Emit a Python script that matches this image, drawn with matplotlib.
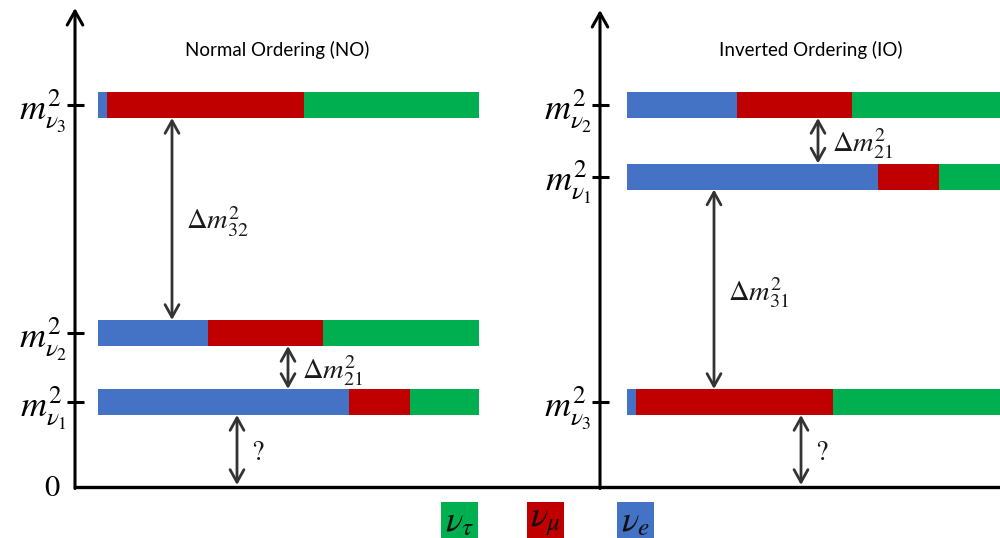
from matplotlib import pyplot as plt
from matplotlib.patches import Rectangle

plt.rcParams['mathtext.fontset'] = 'stix'
plt.rcParams['font.family'] = ['Lato', 'DejaVu Sans']

# flavour order inside every bar: nu_e, nu_mu, nu_tau
flavour_colors = ['#4472C4', '#C00000', '#00B050']
legend_labels = [r'$\nu_\tau$', r'$\nu_\mu$', r'$\nu_e$']
legend_colors = ['#00B050', '#C00000', '#4472C4']

# flavour content of the mass eigenstates
nu1_content = [0.66, 0.16, 0.18]
nu2_content = [0.29, 0.30, 0.41]
nu3_content = [0.024, 0.516, 0.46]

# schematic height of each level above zero (nu1, nu2, nu3)
no_levels = [85, 154, 382]
io_levels = [310.5, 382, 85]

mass_labels = [r'$m^2_{\nu_1}$', r'$m^2_{\nu_2}$', r'$m^2_{\nu_3}$']
contents = [nu1_content, nu2_content, nu3_content]

bar_len = 381
bar_h = 26
arrow_col = '#333333'

fig = plt.figure(figsize=(10, 5.38), dpi=100)
ax = fig.add_axes([0, 0, 1, 1])
ax.set_xlim(0, 1000)
ax.set_ylim(-51, 487)
ax.axis('off')


def axis_arrow(x, top):
    ax.annotate('', xy=(x, top), xytext=(x, -1.5),
                arrowprops=dict(arrowstyle='->,head_length=0.5,head_width=0.28',
                                color='black', lw=2.2, mutation_scale=20,
                                shrinkA=0, shrinkB=0))


def gap_arrow(x, y0, y1, label):
    ax.annotate('', xy=(x, y1), xytext=(x, y0),
                arrowprops=dict(arrowstyle='<->,head_length=0.45,head_width=0.25',
                                color=arrow_col, lw=2, mutation_scale=20,
                                shrinkA=0, shrinkB=0))
    size = 20 if label == '?' else 20.5
    ax.text(x + 14, (y0 + y1) / 2 - 3, label, fontsize=size, color='#1a1a1a',
            family='STIXGeneral', ha='left', va='center')


def spectrum(axis_x, bar_left, levels, title, title_x):
    axis_arrow(axis_x, 479 - (axis_x > 300) * 2)
    for lev, frac, lab in zip(levels, contents, mass_labels):
        left = bar_left
        for f, c in zip(frac, flavour_colors):
            ax.barh(lev, f * bar_len, left=left, height=bar_h, color=c, linewidth=0)
            left += f * bar_len
        ax.plot([axis_x - 8, axis_x + 9], [lev, lev], color='black', lw=2.2,
                solid_capstyle='butt')
        ax.text(axis_x - 8, lev - 6, lab, fontsize=26, ha='right', va='center')
    ax.text(title_x, 437, title, fontsize=13.5, ha='center', va='center')


spectrum(75, 98, no_levels, 'Normal Ordering (NO)', 277)
spectrum(600, 627, io_levels, 'Inverted Ordering (IO)', 811)

# horizontal zero line
ax.plot([75, 1000], [0, 0], color='black', lw=2.4, solid_capstyle='projecting')
ax.text(52, 0, r'$0$', fontsize=22, ha='center', va='center')

h = bar_h / 2
gap_arrow(172, no_levels[1] + h, no_levels[2] - h, r'$\Delta m^2_{32}$')
gap_arrow(288, no_levels[0] + h, no_levels[1] - h, r'$\Delta m^2_{21}$')
gap_arrow(237, 2, no_levels[0] - h, '?')
gap_arrow(818, io_levels[0] + h, io_levels[1] - h, r'$\Delta m^2_{21}$')
gap_arrow(714, io_levels[2] + h, io_levels[0] - h, r'$\Delta m^2_{31}$')
gap_arrow(801, 2, io_levels[2] - h, '?')

# flavour key below the axis
for x0, lab, col in zip([441, 527, 617], legend_labels, legend_colors):
    ax.add_patch(Rectangle((x0, -51), 37, 36, color=col, lw=0, clip_on=False))
    ax.text(x0 + 18.5, -34, lab, fontsize=26, ha='center', va='center', color='#111111')

fig.savefig('out.png', dpi=100)
